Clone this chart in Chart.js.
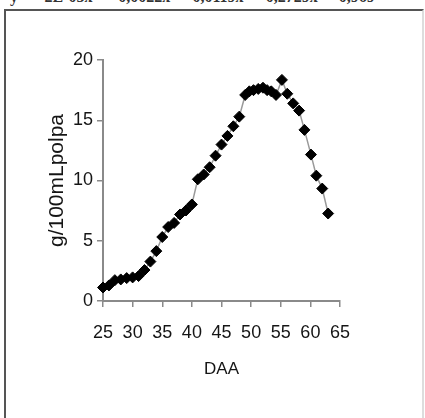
<!DOCTYPE html>
<html>
<head>
<meta charset="utf-8">
<script src="https://cdn.jsdelivr.net/npm/chart.js@4"></script>
<style>
    body { margin: 0; background: #fff; overflow: hidden; }
    #ecuacion {
        position: absolute; left: 10px; top: -12px;
        font: bold 16px "Liberation Serif", serif; color: #333;
        white-space: pre; word-spacing: 2px;
    }
    #marco {
        position: absolute; left: 4px; top: 9px; width: 416px; height: 420px;
        border: 2px solid #555; border-right-color: #ddd;
    }
    #grafico { position: absolute; left: 0; top: 0; }
</style>
</head>
<body>
<div id="ecuacion">y = -2E-05x⁴ + 0,0022x³ - 0,0119x² - 0,2729x + 0,969</div>
<div id="marco"></div>
<canvas id="grafico" width="425" height="418"></canvas>
<script>
// DAA (dias después de antesis)
const dias = [25, 26, 27, 28, 29, 30, 31, 32, 33, 34, 35, 36, 37, 38, 39, 40, 41, 42, 43, 44, 45,
    46, 47, 48, 49, 49.7, 50.4, 51.2, 52, 52.7, 53.4, 54.2, 55.2, 56.1, 57.1, 58.1, 59, 60.1, 61, 62, 63];
// g/100mL polpa
const valores = [1.12, 1.29, 1.73, 1.79, 1.9, 1.96, 2.07, 2.57, 3.27, 4.14, 5.31, 6.14, 6.48, 7.18, 7.51, 8.01,
    10.1, 10.5, 11.1, 12.06, 12.98, 13.7, 14.5, 15.3, 17.1, 17.4, 17.5, 17.6, 17.7, 17.5, 17.4, 17.1,
    18.35, 17.2, 16.4, 15.8, 14.2, 12.15, 10.4, 9.33, 7.26];
const ticksX = [25, 30, 35, 40, 45, 50, 55, 60, 65];
const ticksY = [0, 5, 10, 15, 20];

const puntos = dias.map((d, i) => ({ x: d, y: valores[i] }));

const ejeColor = '#8a8a8a';
const textoColor = '#151515';

new Chart(document.getElementById('grafico').getContext('2d'), {
    type: 'scatter',
    data: {
        datasets: [{
            data: puntos,
            showLine: true,
            borderColor: '#9a9a9a',
            borderWidth: 1.5,
            pointStyle: 'rectRot',
            pointRadius: 5.5,
            pointBackgroundColor: '#000',
            pointBorderColor: '#000',
            pointBorderWidth: 1,
            clip: false
        }]
    },
    options: {
        responsive: false,
        animation: false,
        layout: { padding: { left: 41, right: 85, top: 60, bottom: 34 } },
        plugins: { legend: { display: false }, tooltip: { enabled: false } },
        scales: {
            x: {
                type: 'linear',
                min: ticksX[0],
                max: ticksX[ticksX.length - 1],
                afterBuildTicks: s => { s.ticks = ticksX.map(v => ({ value: v })); },
                afterFit: s => { s.height = 83; },
                grid: { drawOnChartArea: false, tickLength: 6, color: ejeColor, lineWidth: 1.5 },
                border: { color: ejeColor, width: 2 },
                ticks: { color: textoColor, padding: 15, maxRotation: 0, font: { family: 'Liberation Sans', size: 18 } },
                title: { display: true, text: 'DAA', color: textoColor, font: { family: 'Liberation Sans', size: 17 } }
            },
            y: {
                min: ticksY[0],
                max: ticksY[ticksY.length - 1],
                afterBuildTicks: s => { s.ticks = ticksY.map(v => ({ value: v })); },
                afterFit: s => { s.width = 62; },
                grid: { drawOnChartArea: false, tickLength: 6, color: ejeColor, lineWidth: 1.5 },
                border: { color: ejeColor, width: 2 },
                ticks: { color: textoColor, padding: 4, font: { family: 'Liberation Sans', size: 18 } },
                title: { display: true, text: 'g/100mLpolpa', color: textoColor, font: { family: 'Liberation Sans', size: 21 } }
            }
        }
    }
});
</script>
</body>
</html>
